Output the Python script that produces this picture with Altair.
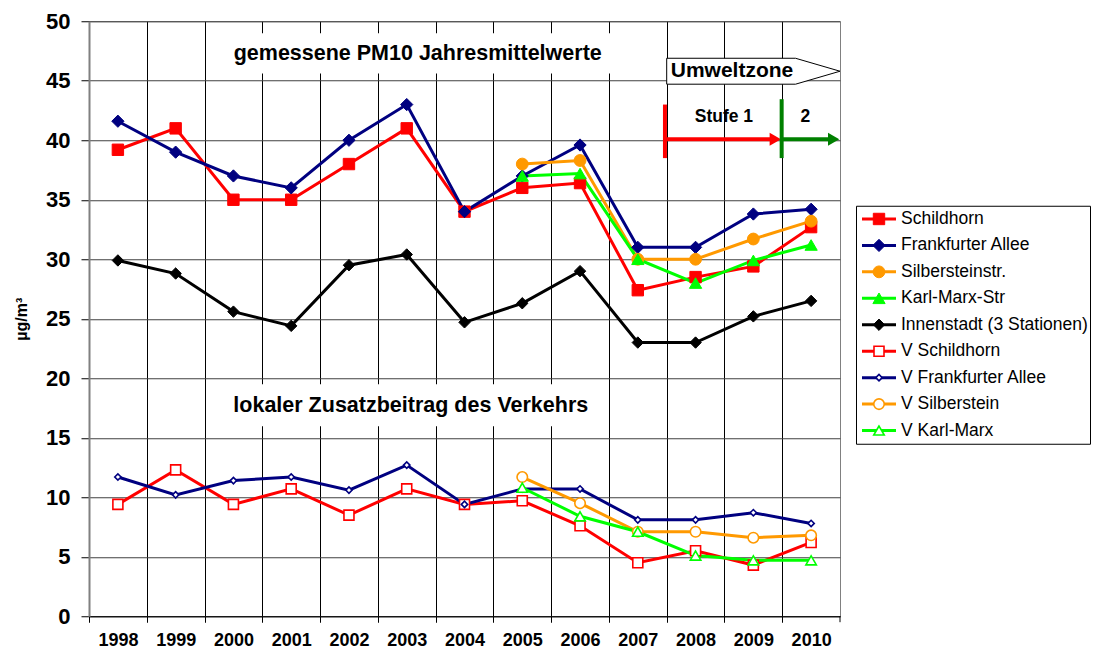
import altair as alt
import pandas as pd

years = list(range(1998, 2011))

names = [
    "Schildhorn",
    "Frankfurter Allee",
    "Silbersteinstr.",
    "Karl-Marx-Str",
    "Innenstadt (3 Stationen)",
    "V Schildhorn",
    "V Frankfurter Allee",
    "V Silberstein",
    "V Karl-Marx",
]

schildhorn = [39.2, 41.0, 35.0, 35.0, 38.0, 41.0, 34.0, 36.0, 36.4, 27.4, 28.5, 29.4, 32.7]
frankfurter = [41.6, 39.0, 37.0, 36.0, 40.0, 43.0, 34.0, 37.0, 39.6, 31.0, 31.0, 33.8, 34.2]
silberstein = [None, None, None, None, None, None, None, 38.0, 38.3, 30.0, 30.0, 31.7, 33.2]
karlmarx = [None, None, None, None, None, None, None, 37.0, 37.2, 30.0, 28.0, 29.9, 31.2]
innenstadt = [29.9, 28.8, 25.6, 24.4, 29.5, 30.4, 24.7, 26.3, 29.0, 23.0, 23.0, 25.2, 26.5]
v_schildhorn = [9.4, 12.3, 9.4, 10.7, 8.5, 10.7, 9.4, 9.7, 7.6, 4.5, 5.5, 4.3, 6.2]
v_frankfurter = [11.7, 10.2, 11.4, 11.7, 10.6, 12.7, 9.4, 10.7, 10.7, 8.1, 8.1, 8.7, 7.8]
v_silberstein = [None, None, None, None, None, None, None, 11.7, 9.5, 7.1, 7.1, 6.6, 6.8]
v_karlmarx = [None, None, None, None, None, None, None, 10.8, 8.4, 7.1, 5.1, 4.7, 4.7]

series = [schildhorn, frankfurter, silberstein, karlmarx, innenstadt,
          v_schildhorn, v_frankfurter, v_silberstein, v_karlmarx]

# styles per series
colors = ["#FF0000", "#000080", "#FF9900", "#00FF00", "#000000",
          "#FF0000", "#000080", "#FF9900", "#00FF00"]
shapes = ["square", "diamond", "circle", "triangle-up", "diamond",
          "square", "diamond", "circle", "triangle-up"]
filled = [True, True, True, True, True, False, False, False, False]
sizes = [130, 150, 140, 150, 130, 100, 40, 110, 110]

rows = []
for n, vals in zip(names, series):
    for yr, v in zip(years, vals):
        if v is not None:
            rows.append({"year": yr, "value": v, "name": n})
df = pd.DataFrame(rows)

color_scale = alt.Scale(domain=names, range=colors)
bounds = [1997.5 + i for i in range(len(years))]  # 1997.5 .. 2009.5

x_enc = alt.X(
    "year:Q",
    scale=alt.Scale(domain=[1997.5, 2010.5], nice=False, zero=False),
    axis=alt.Axis(
        values=bounds,
        labelExpr="format(datum.value + 0.5, 'd')",
        labelOffset=28.9, tickSize=6, tickColor="black",
        grid=True, gridColor="black", gridWidth=1,
        domainColor="black", domainWidth=1,
        labelFontSize=18, labelFontWeight="bold", labelColor="black",
        labelPadding=9, labelFlush=False, labelOverlap=False, title=None,
    ),
)
y_enc = alt.Y(
    "value:Q",
    scale=alt.Scale(domain=[0, 50], nice=False),
    axis=alt.Axis(
        values=list(range(0, 51, 5)), tickSize=8, tickColor="black",
        grid=True, gridColor="#404040", gridWidth=1,
        domainColor="#808080", domainWidth=2,
        labelFontSize=22, labelFontWeight="bold", labelColor="black",
        labelPadding=11,
        title="µg/m³", titleFontSize=16, titleFontWeight="bold",
        titlePadding=16, titleColor="black",
    ),
)

lines = alt.Chart(df).mark_line(strokeWidth=3).encode(
    x=x_enc, y=y_enc,
    color=alt.Color("name:N", scale=color_scale, legend=None),
)

point_layers = []
for n, c, s, f, sz in zip(names, colors, shapes, filled, sizes):
    sub = df[df["name"] == n]
    point_layers.append(
        alt.Chart(sub).mark_point(
            shape=s, size=sz, filled=True, opacity=1,
            fill=c if f else "white", stroke=c,
            strokeWidth=1 if f else 1.6,
        ).encode(x="year:Q", y="value:Q")
    )

one = alt.Data(values=[{}])

def box(x1, x2, y1, y2):
    return alt.Chart(one).mark_rect(fill="white").encode(
        x=alt.datum(x1), x2=alt.datum(x2), y=alt.datum(y1), y2=alt.datum(y2))

def label(txt, x, y, size):
    return alt.Chart(one).mark_text(
        text=txt, fontSize=size, fontWeight="bold", color="black",
        align="center", baseline="middle",
    ).encode(x=alt.datum(x), y=alt.datum(y))

def seg(x1, x2, y1, y2, c, w=4):
    return alt.Chart(one).mark_rule(color=c, strokeWidth=w).encode(
        x=alt.datum(x1), x2=alt.datum(x2), y=alt.datum(y1), y2=alt.datum(y2))

def head(x, y, c):
    return alt.Chart(one).mark_point(
        shape="triangle-right", size=170, filled=True, opacity=1, color=c,
    ).encode(x=alt.datum(x), y=alt.datum(y))

zone = alt.Chart(alt.Data(values=[
    {"x": 2007.5, "y": 46.89, "y2": 44.71},
    {"x": 2009.73, "y": 46.89, "y2": 44.71},
    {"x": 2010.5, "y": 45.8, "y2": 45.8},
])).mark_area(fill="white", stroke="black", strokeWidth=1, opacity=1).encode(
    x="x:Q", y="y:Q", y2="y2:Q")

annotations = [
    box(1999.56, 2007.0, 45.6, 49.0),
    box(1999.56, 2006.4, 15.97, 19.5),
    label("gemessene PM10 Jahresmittelwerte", 2003.19, 47.24, 21.5),
    label("lokaler Zusatzbeitrag des Verkehrs", 2003.07, 17.67, 21.5),
    zone,
    label("Umweltzone", 2008.63, 45.8, 21),
    seg(2007.47, 2007.47, 43.0, 38.5, "#FF0000"),
    seg(2007.47, 2009.3, 40.08, 40.08, "#FF0000"),
    head(2009.38, 40.08, "#FF0000"),
    seg(2009.49, 2009.49, 43.45, 38.5, "#008000"),
    seg(2009.49, 2010.3, 40.08, 40.08, "#008000"),
    head(2010.39, 40.08, "#008000"),
    label("Stufe 1", 2008.49, 41.93, 17.5),
    label("2", 2009.9, 41.93, 17.5),
    seg(2010.5, 2010.5, 0, -0.5, "black", 1),
]

main = alt.layer(lines, *annotations, *point_layers).properties(
    width=751, height=595,
    view=alt.ViewBackground(stroke="#808080", strokeWidth=1),
)

# legend panel
leg_df = pd.DataFrame({"name": names})
ly = alt.Y("name:N", sort=names,
           scale=alt.Scale(type="point", domain=names, padding=0.5), axis=None)
leg_base = alt.Chart(leg_df)
leg_rule = leg_base.mark_rule(strokeWidth=3).encode(
    y=ly, x=alt.value(6), x2=alt.value(40),
    color=alt.Color("name:N", scale=color_scale, legend=None))
leg_text = leg_base.mark_text(
    align="left", baseline="middle", fontSize=17.5, color="black",
).encode(y=ly, x=alt.value(45), text="name:N")
leg_points = []
for n, c, s, f, sz in zip(names, colors, shapes, filled, sizes):
    leg_points.append(
        leg_base.transform_filter(alt.datum.name == n).mark_point(
            shape=s, size=sz, filled=True, opacity=1,
            fill=c if f else "white", stroke=c,
            strokeWidth=1 if f else 1.6,
        ).encode(y=ly, x=alt.value(23))
    )
# invisible spacer extending the panel bounds downward (shifts the centred panel up)
leg_spacer = alt.Chart(one).mark_text(text=" ", fontSize=1, opacity=0).encode(
    x=alt.value(0), y=alt.value(259))
legend = alt.layer(leg_rule, *leg_points, leg_text, leg_spacer).properties(
    width=234, height=238,
    view=alt.ViewBackground(stroke="black", strokeWidth=1),
)

chart = alt.hconcat(main, legend, spacing=12, center=True).properties(
    padding={"left": 5, "top": 1, "right": 0, "bottom": 0},
).configure(font="Liberation Sans")

chart.save("out.html", embed_options={"renderer": "svg", "actions": False})
